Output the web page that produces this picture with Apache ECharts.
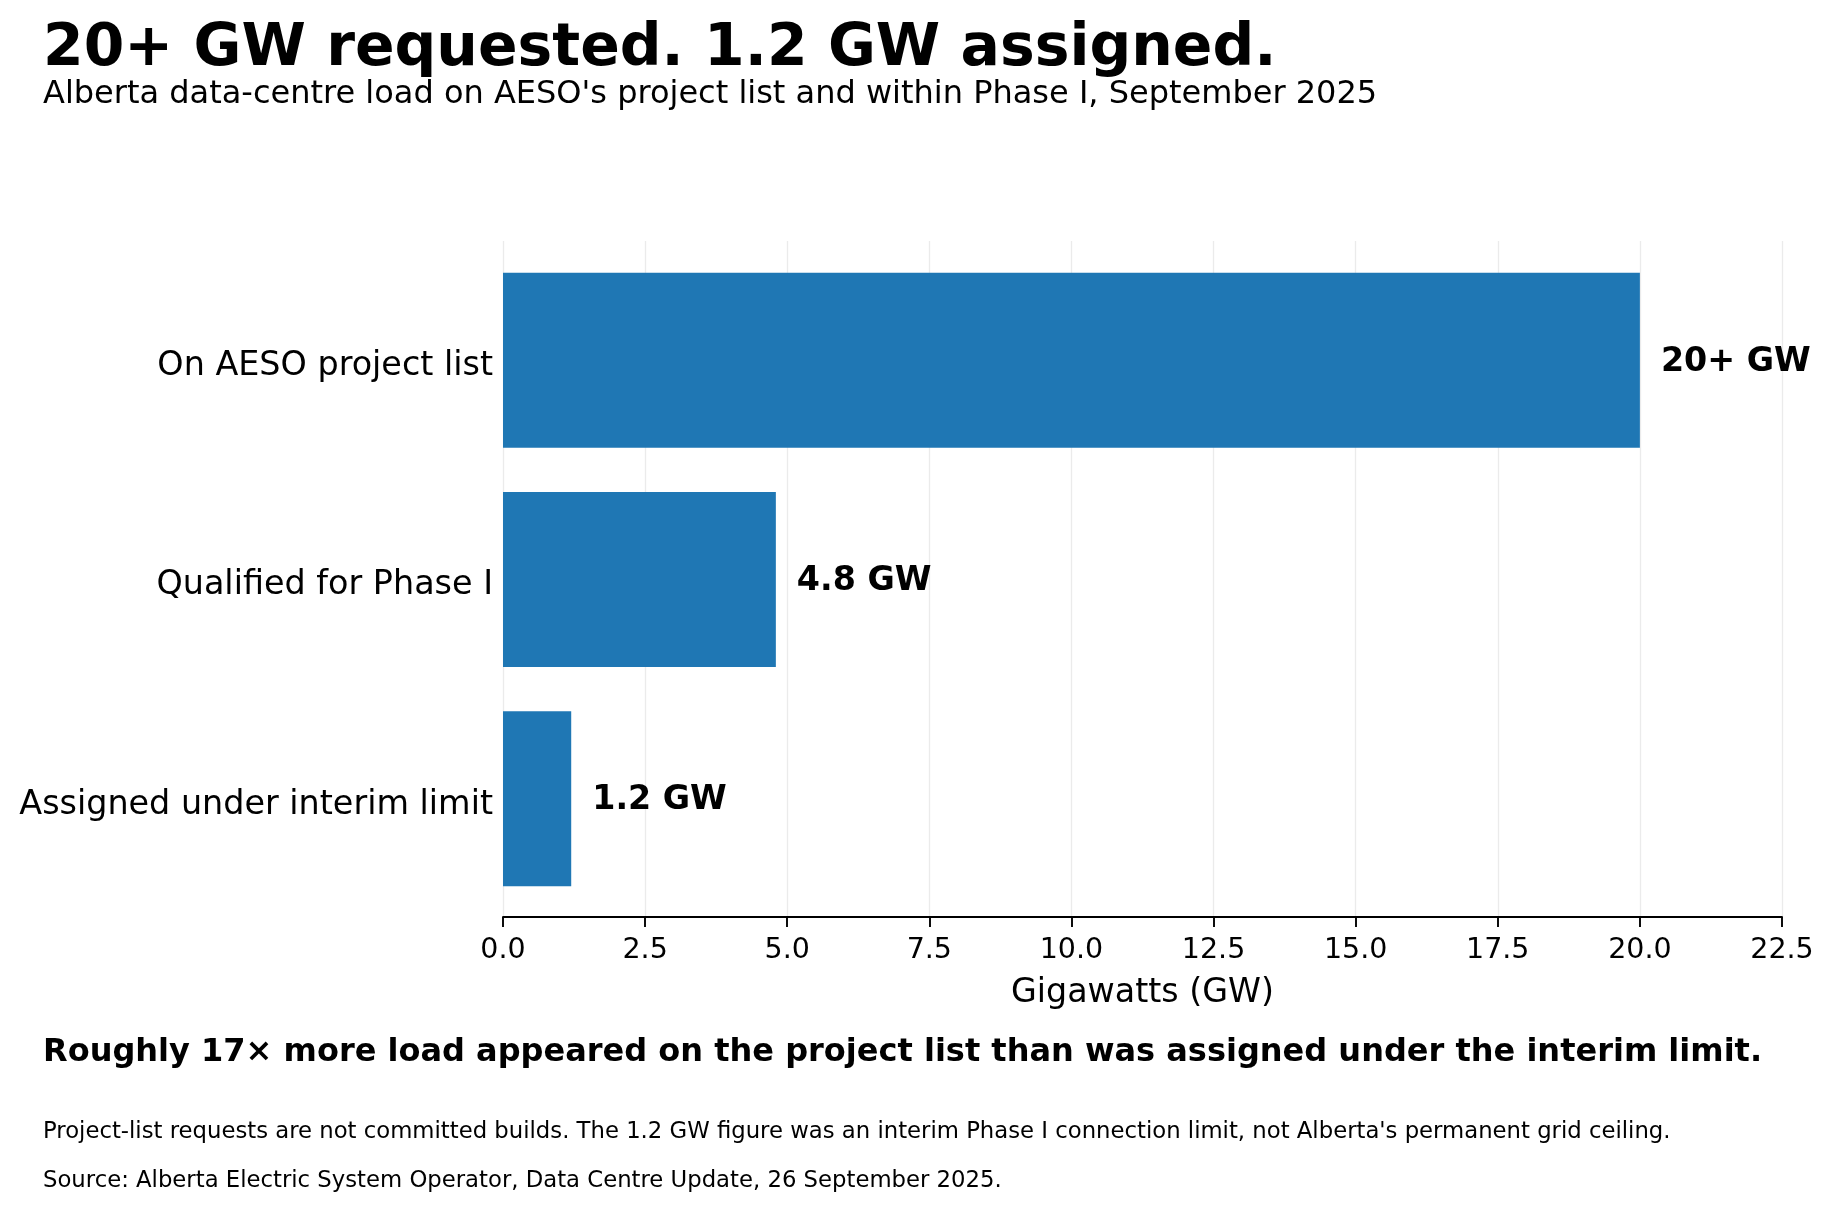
<!DOCTYPE html>
<html>
<head>
<meta charset="utf-8">
<script src="https://cdn.jsdelivr.net/npm/echarts@6/dist/echarts.min.js"></script>
<style>
html,body{margin:0;padding:0;background:#fff;}
#chart{width:1837px;height:1211px;}
</style>
</head>
<body>
<div id="chart"></div>
<script>
const categories = ['On AESO project list', 'Qualified for Phase I', 'Assigned under interim limit'];
const valuesGW = [20, 4.8, 1.2];
const valueLabels = ['20+ GW', '4.8 GW', '1.2 GW'];
const xMin = 0, xMax = 22.5, xInterval = 2.5;
const titleText = '20+ GW requested. 1.2 GW assigned.';
const subtitleText = "Alberta data-centre load on AESO's project list and within Phase I, September 2025";
const takeawayText = 'Roughly 17\u00d7 more load appeared on the project list than was assigned under the interim limit.';
const noteText = "Project-list requests are not committed builds. The 1.2 GW figure was an interim Phase I connection limit, not Alberta's permanent grid ceiling.";
const sourceText = 'Source: Alberta Electric System Operator, Data Centre Update, 26 September 2025.';

const FONT = 'DejaVu Sans';
const chart = echarts.init(document.getElementById('chart'), null, {renderer: 'canvas'});

const option = {
  backgroundColor: '#ffffff',
  animation: false,
  textStyle: {fontFamily: FONT},
  grid: [
    {left: 503, right: 55, top: 241, bottom: 294, outerBoundsMode: 'none'},
    {left: 503, right: 55, top: 250.6, bottom: 302.5, outerBoundsMode: 'none'}
  ],
  xAxis: [
    {
      gridIndex: 0, type: 'value', min: xMin, max: xMax, interval: xInterval,
      axisLine: {show: true, lineStyle: {color: '#000', width: 1.9}},
      axisTick: {show: true, length: 10, lineStyle: {color: '#000', width: 1.9}},
      axisLabel: {show: true, margin: 19, color: '#000', fontSize: 28.5, fontFamily: FONT,
        formatter: v => v.toFixed(1)},
      splitLine: {show: true, lineStyle: {color: '#ebebeb', width: 1.3}},
      name: 'Gigawatts (GW)', nameLocation: 'middle', nameGap: 59.5,
      nameTextStyle: {color: '#000', fontSize: 33.3, fontFamily: FONT}
    },
    {
      gridIndex: 1, type: 'value', min: xMin, max: xMax, interval: xInterval, show: false,
      splitLine: {show: false}
    }
  ],
  yAxis: [
    {gridIndex: 0, type: 'value', show: false, splitLine: {show: false}},
    {
      gridIndex: 1, type: 'category', inverse: true, data: categories,
      axisLine: {show: false}, axisTick: {show: false},
      axisLabel: {show: true, margin: 10, color: '#000', fontSize: 33.4, fontFamily: FONT,
        verticalAlign: 'top', lineHeight: 12},
      splitLine: {show: false}
    }
  ],
  series: [
    {
      type: 'bar', xAxisIndex: 1, yAxisIndex: 1,
      data: valuesGW, barWidth: 175,
      itemStyle: {color: '#1f77b4'},
      label: {
        show: true, position: 'right', distance: 21, offset: [0, 2],
        formatter: p => valueLabels[p.dataIndex],
        color: '#000', fontSize: 33.3, fontWeight: 'bold', fontFamily: FONT
      }
    }
  ],
  graphic: [
    {type: 'text', x: 43, y: 49.5, style: {text: titleText, font: 'bold 58.4px "DejaVu Sans"', fill: '#000', align: 'left', verticalAlign: 'middle'}},
    {type: 'text', x: 43, y: 95, style: {text: subtitleText, font: '32px "DejaVu Sans"', fill: '#000', align: 'left', verticalAlign: 'middle'}},
    {type: 'text', x: 43, y: 1053, style: {text: takeawayText, font: 'bold 32px "DejaVu Sans"', fill: '#000', align: 'left', verticalAlign: 'middle'}},
    {type: 'text', x: 43, y: 1132, style: {text: noteText, font: '22.75px "DejaVu Sans"', fill: '#000', align: 'left', verticalAlign: 'middle'}},
    {type: 'text', x: 43, y: 1181.4, style: {text: sourceText, font: '22.75px "DejaVu Sans"', fill: '#000', align: 'left', verticalAlign: 'middle'}}
  ]
};
chart.setOption(option);
</script>
</body>
</html>
